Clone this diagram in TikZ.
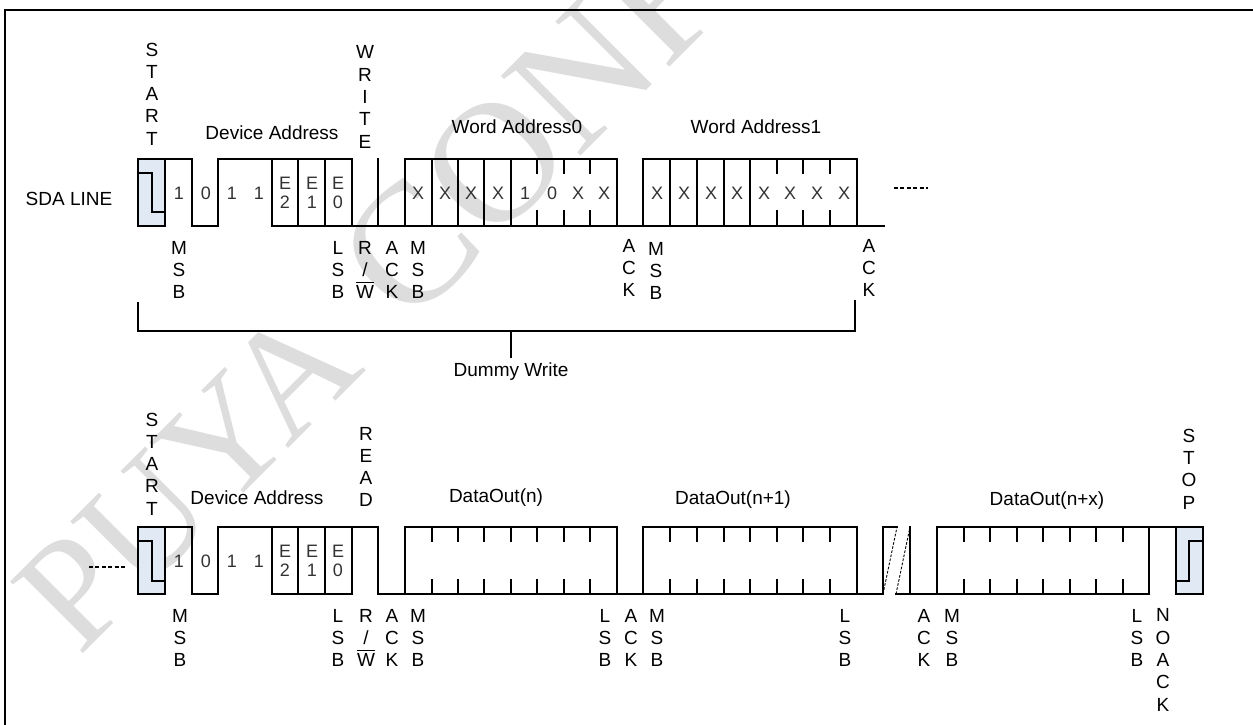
\documentclass[tikz,border=0pt]{standalone}
\usepackage{fontspec}
\setmainfont{Liberation Sans}
\newfontfamily\markfont{Liberation Serif}
\definecolor{startfill}{HTML}{E1E9F5}
\definecolor{markgrey}{HTML}{DDDDDD}
\tikzset{
  sig/.style={black,line width=1.7pt,line cap=rect,line join=miter},
  thin dash/.style={black,line width=1.2pt,dash pattern=on 4pt off 2.4pt},
  slant dash/.style={black,line width=0.9pt,dash pattern=on 2.6pt off 1.6pt},
  lbl/.style={inner sep=0pt,align=center,font=\fontsize{19}{22.3}\selectfont},
  cell/.style={inner sep=0pt,align=center,font=\fontsize{18}{19.5}\selectfont,text=black!80}
}
\newcommand{\barW}{\smash{$\overline{\mbox{W}\rule{0pt}{15.5pt}}$}}
\begin{document}
\begin{tikzpicture}[x=1pt,y=-1pt]
\useasboundingbox (0,0) rectangle (1253,725);
\begin{scope}
\clip (0,0) rectangle (1253,725);
\draw (79,658) node (mark) [anchor=base west,rotate=45,inner sep=0pt,text=markgrey,font=\markfont\fontsize{156}{156}\selectfont] {PUYA\hspace{20pt} {\fontsize{172}{172}\selectfont CONFI}};
\end{scope}
% frame
\draw [black,line width=1.7pt] (5,725) -- (5,10) -- (1253,10);
% first frame
\fill [startfill] (138,159) rectangle (165,226);
\draw [sig] (138,173) -- (152,173) -- (152,212) -- (165,212);
\draw [sig] (165,226) -- (138,226) -- (138,159) -- (192,159) -- (192,226) -- (218,226) -- (218,159) -- (352,159) -- (352,226);
\draw [sig] (165,159) -- (165,226);
\draw [sig] (272,159) -- (272,226) -- (884,226);
\draw [sig] (298,159) -- (298,226);
\draw [sig] (325,159) -- (325,226);
\draw [sig] (378,159) -- (378,226);
\draw [sig] (405,226) -- (405,159) -- (617,159) -- (617,226);
\draw [sig] (432,159) -- (432,226);
\draw [sig] (458,159) -- (458,226);
\draw [sig] (484,159) -- (484,226);
\draw [sig] (511,159) -- (511,226);
\draw [sig] (537,159) -- (537,173) (537,211) -- (537,226);
\draw [sig] (564,159) -- (564,173) (564,211) -- (564,226);
\draw [sig] (590,159) -- (590,173) (590,211) -- (590,226);
\draw [sig] (643,226) -- (643,159) -- (857,159) -- (857,226);
\draw [sig] (670,159) -- (670,226);
\draw [sig] (697,159) -- (697,226);
\draw [sig] (724,159) -- (724,226);
\draw [sig] (750,159) -- (750,226);
\draw [sig] (777,159) -- (777,173) (777,211) -- (777,226);
\draw [sig] (803,159) -- (803,173) (803,211) -- (803,226);
\draw [sig] (830,159) -- (830,173) (830,211) -- (830,226);
\draw [thin dash] (894,188) -- (928,188);
% dummy write bracket
\draw [sig] (138,303) -- (138,331) -- (855,331) -- (855,301);
\draw [sig] (511,331) -- (511,357);
% second frame
\draw [thin dash] (89,567) -- (126,567);
\fill [startfill] (138,527) rectangle (165,594);
\draw [sig] (138,541) -- (152,541) -- (152,581) -- (165,581);
\draw [sig] (165,594) -- (138,594) -- (138,527) -- (192,527) -- (192,594) -- (218,594) -- (218,527) -- (378,527) -- (378,594) -- (883,594) -- (883,527) -- (897,527);
\draw [sig] (165,527) -- (165,594);
\draw [sig] (352,594) -- (272,594) -- (272,527);
\draw [sig] (298,527) -- (298,594);
\draw [sig] (325,527) -- (325,594);
\draw [sig] (352,527) -- (352,594);
\draw [sig] (405,594) -- (405,527) -- (617,527) -- (617,594);
\draw [sig] (432,527) -- (432,541) (432,580) -- (432,594);
\draw [sig] (458,527) -- (458,541) (458,580) -- (458,594);
\draw [sig] (484,527) -- (484,541) (484,580) -- (484,594);
\draw [sig] (511,527) -- (511,541) (511,580) -- (511,594);
\draw [sig] (537,527) -- (537,541) (537,580) -- (537,594);
\draw [sig] (564,527) -- (564,541) (564,580) -- (564,594);
\draw [sig] (590,527) -- (590,541) (590,580) -- (590,594);
\draw [sig] (643,594) -- (643,527) -- (857,527) -- (857,594);
\draw [sig] (670,527) -- (670,541) (670,580) -- (670,594);
\draw [sig] (697,527) -- (697,541) (697,580) -- (697,594);
\draw [sig] (724,527) -- (724,541) (724,580) -- (724,594);
\draw [sig] (750,527) -- (750,541) (750,580) -- (750,594);
\draw [sig] (777,527) -- (777,541) (777,580) -- (777,594);
\draw [sig] (803,527) -- (803,541) (803,580) -- (803,594);
\draw [sig] (830,527) -- (830,541) (830,580) -- (830,594);
\draw [slant dash] (883,594) -- (897,527);
\draw [slant dash] (896,594) -- (910,527);
\draw [sig] (910,527) -- (910,594);
\draw [sig] (896,594) -- (1149,594);
\draw [sig] (1149,527) -- (1149,594);
\draw [sig] (964,527) -- (964,541) (964,580) -- (964,594);
\draw [sig] (990,527) -- (990,541) (990,580) -- (990,594);
\draw [sig] (1017,527) -- (1017,541) (1017,580) -- (1017,594);
\draw [sig] (1043,527) -- (1043,541) (1043,580) -- (1043,594);
\draw [sig] (1070,527) -- (1070,541) (1070,580) -- (1070,594);
\draw [sig] (1096,527) -- (1096,541) (1096,580) -- (1096,594);
\draw [sig] (1123,527) -- (1123,541) (1123,580) -- (1123,594);
\fill [startfill] (1176,527) rectangle (1203,594);
\draw [sig] (1176,581) -- (1189,581) -- (1189,541) -- (1203,541);
\draw [sig] (937,594) -- (937,527) -- (1203,527) -- (1203,594) -- (1176,594) -- (1176,527);
% first frame labels
\draw (152,94) node (startA) [lbl] {S\\T\\A\\R\\T};
\draw (365,97) node (writeA) [lbl] {W\\R\\I\\T\\E};
\draw (272,133) node (devA) [lbl] {Device Address};
\draw (517,127) node (wordA) [lbl] {Word Address0};
\draw (756,127) node (wordB) [lbl] {Word Address1};
\draw (69,199) node (sda) [lbl] {SDA LINE};
\draw (511,372) node (dummy) [lbl] {Dummy Write};
\draw (179,193) node (aOne) [cell] {1};
\draw (206,193) node (aTwo) [cell] {0};
\draw (232,193) node (aThree) [cell] {1};
\draw (259,193) node (aFour) [cell] {1};
\draw (285,193) node (aEtwo) [cell] {E\\2};
\draw (312,193) node (aEone) [cell] {E\\1};
\draw (338,193) node (aEzero) [cell] {E\\0};
\draw (418,193) node (wOne) [cell] {X};
\draw (445,193) node (wTwo) [cell] {X};
\draw (471,193) node (wThree) [cell] {X};
\draw (498,193) node (wFour) [cell] {X};
\draw (525,193) node (wFive) [cell] {1};
\draw (552,193) node (wSix) [cell] {0};
\draw (578,193) node (wSeven) [cell] {X};
\draw (604,193) node (wEight) [cell] {X};
\draw (657,193) node (vOne) [cell] {X};
\draw (684,193) node (vTwo) [cell] {X};
\draw (711,193) node (vThree) [cell] {X};
\draw (737,193) node (vFour) [cell] {X};
\draw (764,193) node (vFive) [cell] {X};
\draw (790,193) node (vSix) [cell] {X};
\draw (817,193) node (vSeven) [cell] {X};
\draw (844,193) node (vEight) [cell] {X};
\draw (179,270) node (msbA) [lbl] {M\\S\\B};
\draw (338,270) node (lsbA) [lbl] {L\\S\\B};
\draw (365,270) node (rwA) [lbl] {R\\/\\\barW};
\draw (392,270) node (ackA) [lbl] {A\\C\\K};
\draw (418,270) node (msbB) [lbl] {M\\S\\B};
\draw (629,268) node (ackB) [lbl] {A\\C\\K};
\draw (656,271) node (msbC) [lbl] {M\\S\\B};
\draw (869,268) node (ackC) [lbl] {A\\C\\K};
% second frame labels
\draw (152,464) node (startB) [lbl] {S\\T\\A\\R\\T};
\draw (366,467) node (readB) [lbl] {R\\E\\A\\D};
\draw (257,498) node (devB) [lbl] {Device Address};
\draw (496,498) node (dataA) [lbl] {DataOut(n)};
\draw (733,500) node (dataB) [lbl] {DataOut(n+1)};
\draw (1047,501) node (dataC) [lbl] {DataOut(n+x)};
\draw (1189,469) node (stop) [lbl] {S\\T\\O\\P};
\draw (179,561) node (bOne) [cell] {1};
\draw (206,561) node (bTwo) [cell] {0};
\draw (232,561) node (bThree) [cell] {1};
\draw (259,561) node (bFour) [cell] {1};
\draw (285,561) node (bEtwo) [cell] {E\\2};
\draw (312,561) node (bEone) [cell] {E\\1};
\draw (338,561) node (bEzero) [cell] {E\\0};
\draw (180,638) node (msbD) [lbl] {M\\S\\B};
\draw (338,638) node (lsbD) [lbl] {L\\S\\B};
\draw (366,638) node (rwD) [lbl] {R\\/\\\barW};
\draw (392,638) node (ackD) [lbl] {A\\C\\K};
\draw (418,638) node (msbE) [lbl] {M\\S\\B};
\draw (605,638) node (lsbE) [lbl] {L\\S\\B};
\draw (631,638) node (ackE) [lbl] {A\\C\\K};
\draw (657,638) node (msbF) [lbl] {M\\S\\B};
\draw (845,638) node (lsbF) [lbl] {L\\S\\B};
\draw (924,638) node (ackF) [lbl] {A\\C\\K};
\draw (952,638) node (msbG) [lbl] {M\\S\\B};
\draw (1137,638) node (lsbG) [lbl] {L\\S\\B};
\draw (1163,660) node (noack) [lbl] {N\\O\\A\\C\\K};
\end{tikzpicture}
\end{document}
